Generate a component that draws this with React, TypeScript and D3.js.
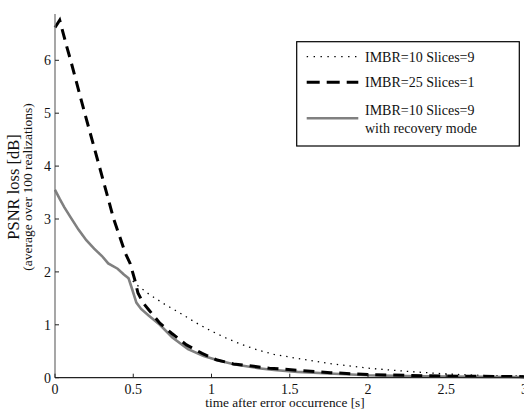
import React from "react";
import * as d3 from "d3";

const tRecovery = [0, 0.03, 0.06, 0.1, 0.15, 0.2, 0.25, 0.3, 0.34, 0.4, 0.44, 0.47, 0.49, 0.52, 0.55, 0.6, 0.67, 0.75, 0.85, 0.95, 1.05, 1.15, 1.3, 1.4, 1.55, 1.75, 2.0, 2.25, 2.5, 2.75, 3.0];
const vRecovery = [3.55, 3.38, 3.22, 3.03, 2.8, 2.6, 2.44, 2.3, 2.16, 2.06, 1.95, 1.88, 1.7, 1.42, 1.3, 1.17, 1.0, 0.76, 0.54, 0.41, 0.32, 0.25, 0.18, 0.145, 0.11, 0.08, 0.045, 0.03, 0.02, 0.015, 0.01];

const tSlices9 = [0, 0.03, 0.06, 0.1, 0.15, 0.2, 0.25, 0.3, 0.34, 0.4, 0.44, 0.47, 0.5, 0.52, 0.6, 0.7, 0.8, 0.9, 1.0, 1.1, 1.2, 1.3, 1.4, 1.5, 1.6, 1.75, 2.0, 2.25, 2.5, 2.75, 3.0];
const vSlices9 = [3.55, 3.38, 3.22, 3.03, 2.8, 2.6, 2.44, 2.3, 2.16, 2.06, 1.95, 1.88, 1.82, 1.76, 1.58, 1.39, 1.22, 1.04, 0.88, 0.74, 0.62, 0.52, 0.44, 0.39, 0.34, 0.27, 0.18, 0.12, 0.07, 0.04, 0.03];

const tSlices1 = [0, 0.03, 0.075, 0.1, 0.19, 0.283, 0.375, 0.45, 0.48, 0.51, 0.53, 0.564, 0.6, 0.67, 0.745, 0.84, 0.94, 1.03, 1.14, 1.37, 1.76, 2.0, 2.5, 3.0];
const vSlices1 = [6.62, 6.76, 6.26, 6.0, 5.0, 4.0, 3.0, 2.35, 2.16, 1.85, 1.6, 1.41, 1.28, 1.03, 0.84, 0.62, 0.46, 0.34, 0.26, 0.18, 0.095, 0.06, 0.03, 0.02];

const xTicks = [0, 0.5, 1, 1.5, 2, 2.5, 3];
const yTicks = [0, 1, 2, 3, 4, 5, 6];

const legendLabels = ["IMBR=10 Slices=9", "IMBR=25 Slices=1", "IMBR=10 Slices=9", "with recovery mode"];

const FONT = "'Liberation Serif', 'Times New Roman', serif";

export default function App() {
  const W = 524, H = 412;
  const x = d3.scaleLinear().domain([0, 3]).range([55, 524.5]);
  const y = d3.scaleLinear().domain([0, 7]).range([377.7, 7.4]);
  const line = d3.line<[number, number]>().x(d => x(d[0])).y(d => y(d[1]));
  const zip = (a: number[], b: number[]) => a.map((v, i) => [v, b[i]] as [number, number]);

  return (
    <svg width={W} height={H} style={{ position: "absolute", left: 0, top: 0, background: "#fff" }} fontFamily={FONT}>
      {/* curves */}
      <path d={line(zip(tSlices9, vSlices9)) || ""} fill="none" stroke="#000" strokeWidth={1.3} strokeDasharray="1.4,5" />
      <path d={line(zip(tRecovery, vRecovery)) || ""} fill="none" stroke="#808080" strokeWidth={2.6} />
      <path d={line(zip(tSlices1, vSlices1)) || ""} fill="none" stroke="#000" strokeWidth={3} strokeDasharray="11,7" />

      {/* axes */}
      <line x1={x(0)} x2={x(0)} y1={y(0)} y2={14} stroke="#777" strokeWidth={1.3} />
      <line x1={x(0)} x2={W} y1={y(0)} y2={y(0)} stroke="#222" strokeWidth={1.3} />
      {yTicks.map(t => (
        <g key={"y" + t}>
          <line x1={x(0)} x2={x(0) + 4} y1={y(t)} y2={y(t)} stroke="#222" strokeWidth={1} />
          <text x={51} y={y(t)} dy="0.35em" textAnchor="end" fontSize={14} fill="#111">{t}</text>
        </g>
      ))}
      {xTicks.map(t => (
        <g key={"x" + t}>
          <line x1={x(t)} x2={x(t)} y1={y(0)} y2={y(0) - 4} stroke="#222" strokeWidth={1} />
          <text x={x(t)} y={393.5} textAnchor="middle" fontSize={14} fill="#111">{t}</text>
        </g>
      ))}
      <text x={285} y={407} textAnchor="middle" fontSize={13.3} fill="#111">time after error occurrence [s]</text>
      <g transform="translate(19,187) rotate(-90)">
        <text x={0} y={0} textAnchor="middle" fontSize={16.5} fill="#111">PSNR loss [dB]</text>
        <text x={0} y={12.5} textAnchor="middle" fontSize={13.5} fill="#111">(average over 100 realizations)</text>
      </g>

      {/* legend */}
      <rect x={296.7} y={41.7} width={222.6} height={104.3} fill="#fff" stroke="#000" strokeWidth={1.2} />
      <line x1={306.7} x2={358.3} y1={56.7} y2={56.7} stroke="#000" strokeWidth={1.2} strokeDasharray="1.4,5.5" />
      <text x={365} y={56.7} dy="0.35em" fontSize={14} fill="#111">{legendLabels[0]}</text>
      <line x1={306.7} x2={358.3} y1={82.3} y2={82.3} stroke="#000" strokeWidth={3} strokeDasharray="13,7" />
      <text x={365} y={82.3} dy="0.35em" fontSize={14} fill="#111">{legendLabels[1]}</text>
      <line x1={306.7} x2={358.3} y1={118.3} y2={118.3} stroke="#808080" strokeWidth={2.6} />
      <text x={365} y={110} dy="0.35em" fontSize={14} fill="#111">{legendLabels[2]}</text>
      <text x={365} y={127.7} dy="0.35em" fontSize={14} fill="#111">{legendLabels[3]}</text>
    </svg>
  );
}
